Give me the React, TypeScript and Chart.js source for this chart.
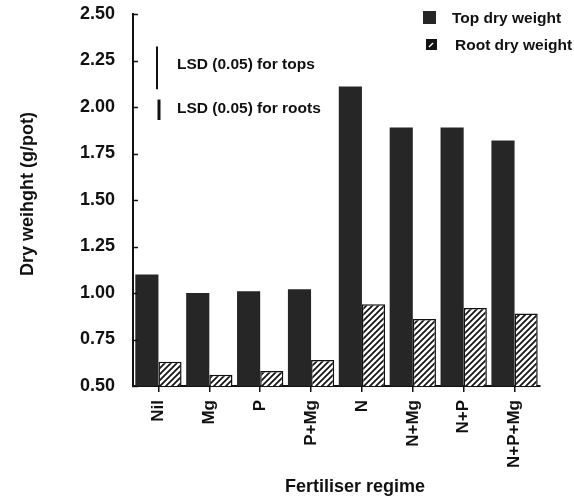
import React, { useEffect, useRef } from "react";
import { Chart, registerables } from "chart.js";

Chart.register(...registerables);

const categories = ["Nil", "Mg", "P", "P+Mg", "N", "N+Mg", "N+P", "N+P+Mg"];
const topDryWeight = [1.1, 1.0, 1.01, 1.02, 2.11, 1.89, 1.89, 1.82];
const rootDryWeight = [0.63, 0.56, 0.58, 0.64, 0.94, 0.86, 0.92, 0.89];
const yMin = 0.5;
const yMax = 2.5;
const yStep = 0.25;
const lsdTops = 0.23;
const lsdRoots = 0.11;
const legendLabels = ["Top dry weight", "Root dry weight"];
const lsdLabels = ["LSD (0.05) for tops", "LSD (0.05) for roots"];
const yTitle = "Dry weihght (g/pot)";
const xTitle = "Fertiliser regime";

const FONT = "'Liberation Sans', Arial, Helvetica, sans-serif";
const INK = "#111";
const BAR = "#262626";

function makeHatch(): CanvasPattern | string {
  const c = document.createElement("canvas");
  const s = 6;
  c.width = s;
  c.height = s;
  const g = c.getContext("2d");
  if (!g) return "#fff";
  g.fillStyle = "#fff";
  g.fillRect(0, 0, s, s);
  g.strokeStyle = INK;
  g.lineWidth = 1.7;
  g.beginPath();
  g.moveTo(-1, s + 1);
  g.lineTo(s + 1, -1);
  g.moveTo(-1, 1);
  g.lineTo(1, -1);
  g.moveTo(s - 1, s + 1);
  g.lineTo(s + 1, s - 1);
  g.stroke();
  const p = g.createPattern(c, "repeat");
  return p || "#fff";
}

const decorations = {
  id: "decorations",
  afterDraw(chart: any) {
    const ctx = chart.ctx as CanvasRenderingContext2D;
    const y = chart.scales.y;
    const area = chart.chartArea;
    ctx.save();

    // inward tick marks on the value axis
    ctx.strokeStyle = INK;
    ctx.lineWidth = 1.5;
    for (let v = yMin; v <= yMax + 1e-9; v += yStep) {
      const py = Math.round(y.getPixelForValue(v)) + 0.5;
      ctx.beginPath();
      ctx.moveTo(area.left - 1, py);
      ctx.lineTo(area.left + 5, py);
      ctx.stroke();
    }

    // LSD bars, sized in data units
    const lsdTopStart = 2.325;
    const lsdRootStart = 2.04;
    ctx.lineWidth = 2;
    ctx.beginPath();
    ctx.moveTo(157, y.getPixelForValue(lsdTopStart));
    ctx.lineTo(157, y.getPixelForValue(lsdTopStart - lsdTops));
    ctx.stroke();
    ctx.lineWidth = 3;
    ctx.beginPath();
    ctx.moveTo(159, y.getPixelForValue(lsdRootStart));
    ctx.lineTo(159, y.getPixelForValue(lsdRootStart - lsdRoots));
    ctx.stroke();

    ctx.fillStyle = INK;
    ctx.textBaseline = "middle";
    ctx.textAlign = "left";
    ctx.font = `bold 15.5px ${FONT}`;
    ctx.fillText(lsdLabels[0], 177, 65);
    ctx.fillText(lsdLabels[1], 177, 109);

    // legend
    ctx.fillStyle = BAR;
    ctx.fillRect(423, 11, 13, 13);
    ctx.fillStyle = INK;
    ctx.fillRect(426, 39, 11, 11);
    ctx.strokeStyle = "#fff";
    ctx.lineWidth = 1.5;
    ctx.beginPath();
    ctx.moveTo(429, 47);
    ctx.lineTo(433, 43);
    ctx.stroke();
    ctx.fillStyle = INK;
    ctx.font = `bold 15.5px ${FONT}`;
    ctx.fillText(legendLabels[0], 452, 19);
    ctx.fillText(legendLabels[1], 455, 46);

    // axis titles
    ctx.font = `bold 18px ${FONT}`;
    ctx.textAlign = "center";
    ctx.fillText(xTitle, 355, 487);
    ctx.save();
    ctx.translate(28, 194);
    ctx.rotate(-Math.PI / 2);
    ctx.font = `bold 18px ${FONT}`;
    ctx.fillText(yTitle, 0, 0);
    ctx.restore();

    ctx.restore();
  },
};

export default function App() {
  const ref = useRef<HTMLCanvasElement | null>(null);

  useEffect(() => {
    if (!ref.current) return;
    const hatch = makeHatch();
    const chart = new Chart(ref.current, {
      type: "bar",
      data: {
        labels: categories,
        datasets: [
          {
            label: legendLabels[0],
            data: topDryWeight,
            backgroundColor: BAR,
            borderColor: BAR,
            borderWidth: 0,
          },
          {
            label: legendLabels[1],
            data: rootDryWeight,
            backgroundColor: hatch as any,
            borderColor: INK,
            borderWidth: 1.5,
          },
        ],
      },
      options: {
        responsive: false,
        animation: false,
        events: [],
        layout: { padding: { top: 14, right: 34, bottom: 0, left: 0 } },
        plugins: {
          legend: { display: false },
          tooltip: { enabled: false },
        },
        datasets: {
          bar: { categoryPercentage: 0.91, barPercentage: 1.0 },
        },
        scales: {
          x: {
            grid: {
              offset: false,
              drawOnChartArea: false,
              drawTicks: true,
              tickLength: 6,
              color: INK,
              lineWidth: 1.5,
            },
            border: { display: true, color: INK, width: 2 },
            ticks: {
              minRotation: 90,
              maxRotation: 90,
              padding: 8,
              color: INK,
              font: { family: FONT, size: 17, weight: "bold" },
            },
            afterFit(scale: any) {
              scale.height = 114;
              scale.paddingTop = 0;
              scale.paddingBottom = 0;
              scale.paddingLeft = 0;
              scale.paddingRight = 0;
            },
          },
          y: {
            min: yMin,
            max: yMax,
            grid: { drawOnChartArea: false, drawTicks: false },
            border: { display: true, color: INK, width: 2 },
            ticks: {
              stepSize: yStep,
              padding: 18,
              color: INK,
              font: { family: FONT, size: 18, weight: "bold" },
              callback: (v: any) => Number(v).toFixed(2),
            },
            afterFit(scale: any) {
              scale.width = 133;
              scale.paddingTop = 0;
              scale.paddingBottom = 0;
            },
          },
        },
      },
      plugins: [decorations],
    });
    return () => chart.destroy();
  }, []);

  return (
    <div style={{ position: "fixed", left: 0, top: 0, width: 574, height: 500, background: "#fff" }}>
      <canvas ref={ref} width={574} height={500} />
    </div>
  );
}
